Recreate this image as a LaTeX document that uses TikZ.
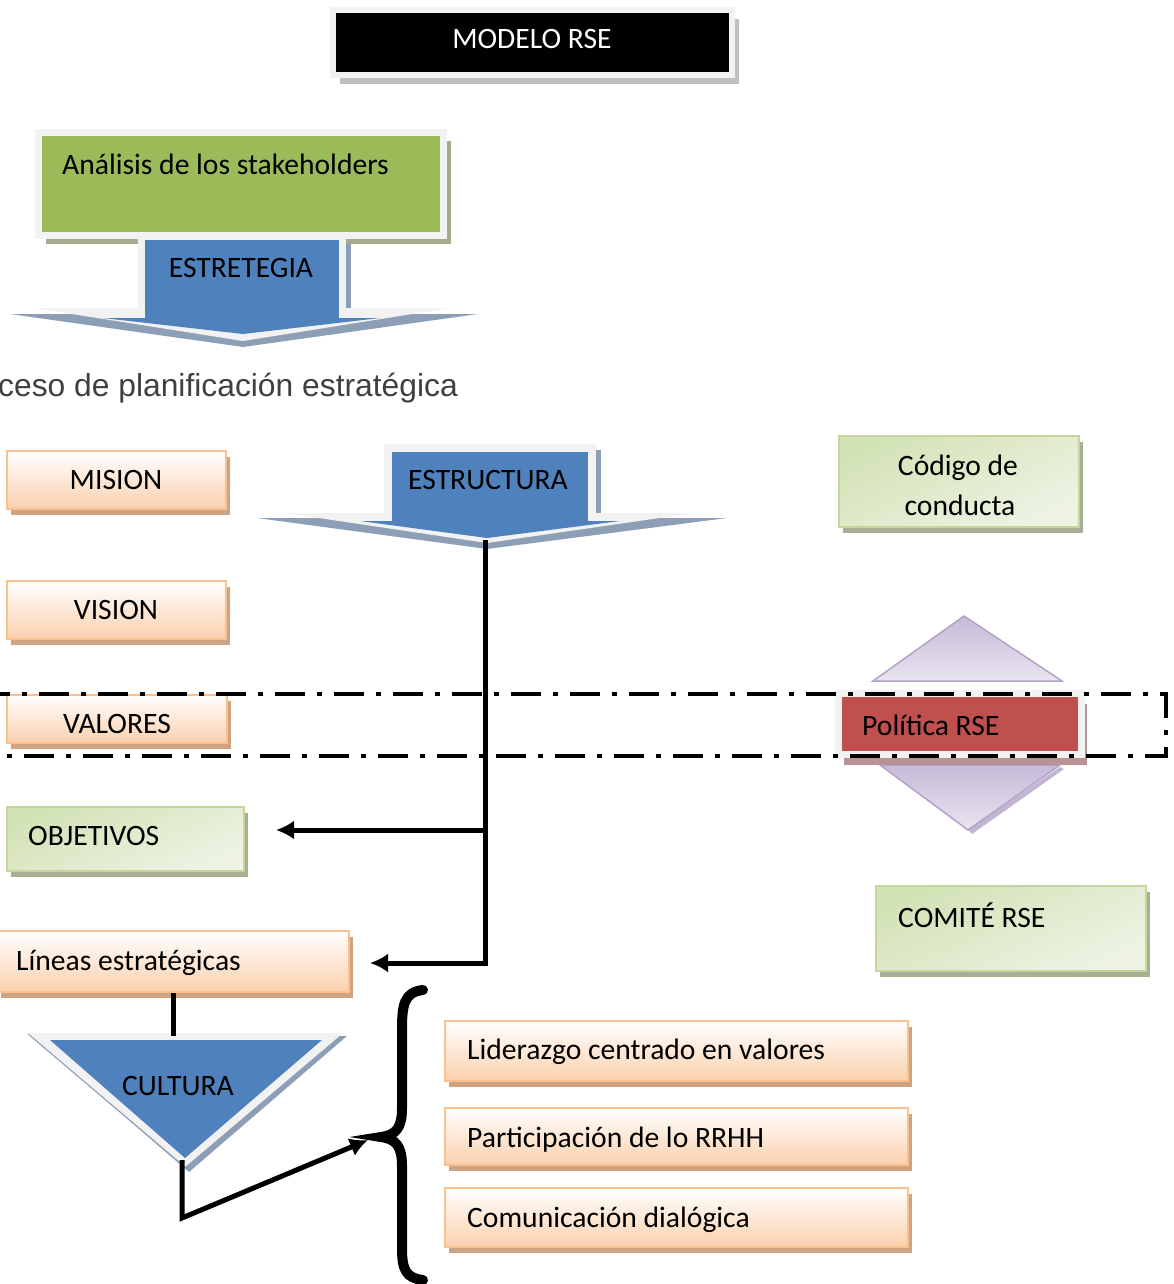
\documentclass[tikz,border=0pt]{standalone}
\usepackage{fontspec}
\setmainfont{Carlito}
\newfontfamily\subfont{Liberation Sans}
\usetikzlibrary{arrows.meta,shadows}

\definecolor{rseblue}{HTML}{4F81BD}
\definecolor{framegrey}{HTML}{F2F2F2}
\definecolor{blueshade}{HTML}{8D9FB7}
\definecolor{stakegreen}{HTML}{9BBB59}
\definecolor{greenshade}{HTML}{A4AB8E}
\definecolor{blackshade}{HTML}{BFBFBF}
\definecolor{peachline}{HTML}{FAC08F}
\definecolor{peachfill}{HTML}{FAD0AD}
\definecolor{peachshade}{HTML}{CFA381}
\definecolor{paleline}{HTML}{C3D69B}
\definecolor{paleA}{HTML}{D3E2B6}
\definecolor{paleB}{HTML}{EEF3E4}
\definecolor{paleshade}{HTML}{A8AF95}
\definecolor{rsered}{HTML}{C0504D}
\definecolor{redshade}{HTML}{B89294}
\definecolor{lilac}{HTML}{C7BBD9}
\definecolor{lilaclight}{HTML}{E8E4EF}
\definecolor{lilacline}{HTML}{B3A2C7}
\definecolor{subgrey}{HTML}{404040}

\begin{document}
\begin{tikzpicture}[x=1pt,y=-1pt,
    lbl/.style={font=\fontsize{29.6}{35}\selectfont, inner sep=0pt},
    peachbox/.style={draw=peachline, line width=2pt, top color=white,
      bottom color=peachfill, inner sep=0pt,
      drop shadow={shadow xshift=4pt, shadow yshift=-6pt, fill=peachshade, opacity=1}},
    palebox/.style={draw=paleline, line width=2pt, top color=paleA,
      bottom color=paleB, shading angle=25, inner sep=0pt,
      drop shadow={shadow xshift=4pt, shadow yshift=-6pt, fill=paleshade, opacity=1}},
    framebox/.style={draw=framegrey, inner sep=0pt},
    link/.style={line width=5pt},
    arr/.style={link, -{Latex[length=18pt,width=19pt]}},
    band/.style={line width=4pt, dash pattern=on 30pt off 12pt on 5pt off 12pt}]
  \useasboundingbox (0,0) rectangle (1174,1284);

  % title
  \node[framebox, fill=black, line width=6pt, minimum width=399pt, minimum height=65pt,
    drop shadow={shadow xshift=7pt, shadow yshift=-9pt, fill=blackshade, opacity=1}]
    (modelo) at (532.5,42.5) {};
  \node[lbl, anchor=base, text=white] (modelotxt) at (532,49) {MODELO RSE};

  % stakeholders and strategy arrow
  \node[framebox, fill=stakegreen, line width=7pt, minimum width=405pt, minimum height=103pt,
    drop shadow={shadow xshift=7.5pt, shadow yshift=-8.5pt, fill=greenshade, opacity=1}]
    (stake) at (241,184) {};
  \node[lbl, anchor=base west] (staketxt) at (62,175) {Análisis de los stakeholders};

  \fill[blueshade] (346,243) rectangle (351,310);
  \fill[blueshade] (10,314) -- (478,314) -- (243,347) -- cycle;
  \fill[framegrey] (138,233) rectangle (346,310);
  \fill[framegrey] (34,308) -- (450,308) -- (243,341) -- cycle;
  \fill[rseblue] (145,240) rectangle (339,319);
  \fill[rseblue] (103,318) -- (380,318) -- (243,334) -- cycle;
  \node[lbl, anchor=base] (estrat) at (241,277) {ESTRETEGIA};

  \node[anchor=base west, inner sep=0pt, font=\subfont\fontsize{31.8}{38}\selectfont,
    text=subgrey] (planif) at (-2,396) {ceso de planificación estratégica};

  % structure arrow
  \fill[blueshade] (596,450) rectangle (601,515);
  \fill[blueshade] (257,518) -- (727,518) -- (487,549) -- cycle;
  \fill[framegrey] (384,444) rectangle (596,515);
  \fill[framegrey] (285,513) -- (694,513) -- (487,543) -- cycle;
  \fill[rseblue] (392,452) rectangle (588,522);
  \fill[rseblue] (360,521) -- (620,521) -- (487,538) -- cycle;
  \node[lbl, anchor=base] (estruc) at (488,489) {ESTRUCTURA};

  % left column
  \node[peachbox, minimum width=219pt, minimum height=58pt] (mision) at (116.5,480) {};
  \node[lbl, anchor=base] (misiontxt) at (116,489) {MISION};
  \node[peachbox, minimum width=219pt, minimum height=58pt] (vision) at (116.5,610) {};
  \node[lbl, anchor=base] (visiontxt) at (116,619) {VISION};
  \node[peachbox, minimum width=220pt, minimum height=48pt] (valores) at (117,719) {};
  \node[lbl, anchor=base] (valorestxt) at (117,733) {VALORES};
  \node[palebox, minimum width=237pt, minimum height=64pt] (obj) at (125.5,839) {};
  \node[lbl, anchor=base west] (objtxt) at (28,845) {OBJETIVOS};
  \node[peachbox, minimum width=352pt, minimum height=61pt] (lin) at (173,961.5) {};
  \node[lbl, anchor=base west] (lintxt) at (16,970) {Líneas estratégicas};

  % culture triangle
  \fill[blueshade] (31,1036) -- (347,1036) -- (189,1172) -- cycle;
  \fill[framegrey] (28,1033) -- (343,1033) -- (185,1167) -- cycle;
  \draw[blueshade, line width=1pt] (28,1034) -- (185,1167);
  \fill[rseblue] (50,1040) -- (322,1040) -- (185,1158) -- cycle;
  \node[lbl, anchor=base] (cultura) at (178,1095) {CULTURA};

  % right column
  \node[palebox, minimum width=240pt, minimum height=91pt] (codigo) at (959,481.5) {};
  \node[lbl, anchor=base] (codigo1) at (958,475) {Código de};
  \node[lbl, anchor=base] (codigo2) at (960,515) {conducta};

  \shadedraw[top color=lilac, bottom color=lilaclight, draw=lilacline, line width=1.5pt]
    (964,616) -- (1062,681) -- (873,681) -- cycle;
  \fill[lilacline!80] (1060,767) -- (1064,769) -- (972,834) -- (968,830) -- cycle;
  \shadedraw[top color=lilac, bottom color=lilaclight, draw=lilacline, line width=1.5pt]
    (880,765) -- (1060,765) -- (968,830) -- cycle;
  \node[framebox, fill=rsered, line width=7pt, minimum width=243pt, minimum height=61pt,
    drop shadow={shadow xshift=5.5pt, shadow yshift=-10.5pt, fill=redshade, opacity=1}]
    (politica) at (960,724) {};
  \node[lbl, anchor=base west] (politicatxt) at (862,735) {Política RSE};

  \node[palebox, minimum width=270pt, minimum height=85pt] (comite) at (1011,928.5) {};
  \node[lbl, anchor=base west] (comitetxt) at (898,927) {COMITÉ RSE};

  \node[peachbox, minimum width=463pt, minimum height=60pt] (lider) at (676.5,1051) {};
  \node[lbl, anchor=base west] (lidertxt) at (467,1059) {Liderazgo centrado en valores};
  \node[peachbox, minimum width=463pt, minimum height=57pt] (rrhh) at (676.5,1136.5) {};
  \node[lbl, anchor=base west] (rrhhtxt) at (467,1147) {Participación de lo RRHH};
  \node[peachbox, minimum width=463pt, minimum height=59pt] (dialog) at (676.5,1217.5) {};
  \node[lbl, anchor=base west] (dialogtxt) at (467,1227) {Comunicación dialógica};

  % brace
  \draw[line width=10pt, line cap=round]
    (423,990) .. controls (404,992) and (402,1005) .. (402,1030) -- (402,1108)
    .. controls (402,1128) and (396,1135) .. (381,1137)
    .. controls (396,1139) and (402,1146) .. (402,1166) -- (402,1248)
    .. controls (402,1270) and (406,1278) .. (423,1280);

  % connectors
  \coordinate (estip) at (485,540);
  \coordinate (j1) at (485,830);
  \coordinate (objtip) at (276,830);
  \coordinate (lintip) at (370,963);
  \coordinate (cultop) at (173,1036);
  \coordinate (cultip) at (182,1160);
  \coordinate (bend) at (182,1218);
  \coordinate (bracetip) at (368,1140);
  \draw[arr] (estip) |- (lintip);
  \draw[arr] (j1) -- (objtip);
  \draw[link] (lin.south) -- (cultop);
  \draw[arr] (cultip) -- (bend) -- (bracetip);

  % policy band
  \draw[band] (-20,694) -- (1166,694) -- (1166,756) -- (-20,756);
\end{tikzpicture}
\end{document}
